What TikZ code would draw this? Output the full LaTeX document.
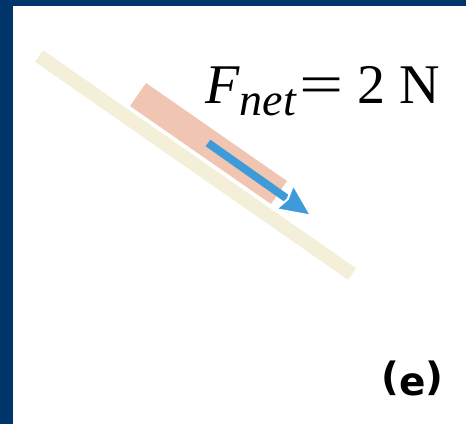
\documentclass[tikz,border=0pt]{standalone}
\usepackage{fontspec}
\setmainfont{Liberation Serif}
\newfontfamily\letrapanel{DejaVu Sans}
\usetikzlibrary{arrows.meta}
\definecolor{marino}{HTML}{00356B}
\definecolor{arena}{HTML}{F3EFD9}
\definecolor{salmon}{HTML}{F0C5B2}
\definecolor{azul}{HTML}{3D9BDA}

\begin{document}
\begin{tikzpicture}[
        x=1pt, y=-1pt,
        plano/.style={draw=arena, line width=14pt},
        bloque/.style={fill=salmon},
        flecha/.style={draw=azul, line width=8pt, -{Stealth[length=36pt, width=33pt, inset=4pt, fill=azul, color=white, line width=2pt]}},
        formula/.style={anchor=base west, inner sep=0pt, font=\fontsize{56}{60}\selectfont},
        rotulo/.style={anchor=base west, inner sep=0pt, font=\letrapanel\bfseries\fontsize{39}{42}\selectfont}
    ]
        % marco
        \fill[marino] (0,0) rectangle (466,424);
        \fill[white] (13,6) rectangle (466,424);
        \useasboundingbox (0,0) rectangle (466,424);

        % plano inclinado y bloque
        \coordinate (p1) at (39,56);
        \coordinate (p2) at (352,274);
        \draw[plano] (p1) -- (p2);
        \fill[bloque] (130,106) -- (271,204) -- (287,181) -- (146,83) -- cycle;

        % fuerza neta
        \coordinate (cola) at (208,143);
        \coordinate (punta) at (313,217);
        \draw[flecha] (cola) -- (punta);

        \node[formula] (fnet) at (205,103) {\textit{F}\raisebox{-12pt}{\fontsize{46}{50}\selectfont\textit{net}}\kern3pt\scalebox{1.4}[1]{=}\hspace{13pt}2 N};
        \node[rotulo] (panel) at (381,395) {\raisebox{0.12em}{(}e\raisebox{0.12em}{)}};
\end{tikzpicture}
\end{document}
